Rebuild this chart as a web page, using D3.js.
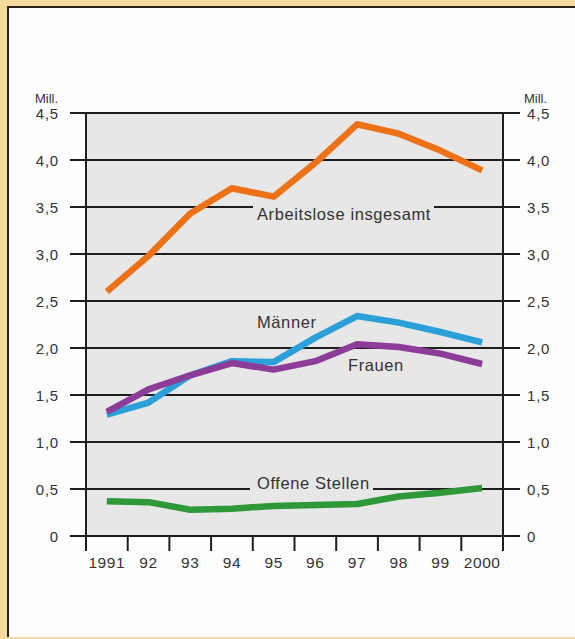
<!DOCTYPE html>
<html>
<head>
<meta charset="utf-8">
<script src="https://cdn.jsdelivr.net/npm/d3@7"></script>
<style>
    body { margin: 0; background: #f3d99c; }
    svg { display: block; }
    text { font-family: "Liberation Sans", Arial, sans-serif; fill: #333; }
</style>
</head>
<body>
<div id="chart"></div>
<script>
// data (Mill.)
const years = ['1991', '92', '93', '94', '95', '96', '97', '98', '99', '2000'];
const insgesamt = [2.60, 2.98, 3.43, 3.70, 3.61, 3.97, 4.38, 4.28, 4.10, 3.89];
const maenner = [1.29, 1.42, 1.71, 1.86, 1.85, 2.11, 2.34, 2.27, 2.17, 2.06];
const frauen = [1.32, 1.56, 1.71, 1.84, 1.77, 1.86, 2.04, 2.01, 1.94, 1.83];
const offeneStellen = [0.37, 0.36, 0.28, 0.29, 0.32, 0.33, 0.34, 0.42, 0.46, 0.51];
const yTicks = [0, 0.5, 1.0, 1.5, 2.0, 2.5, 3.0, 3.5, 4.0, 4.5];

const W = 575, H = 639;
const M = { left: 86, right: 503, top: 113, bottom: 536 };

const series = [
    { values: insgesamt, color: '#ec7117' },
    { values: maenner, color: '#2b9fd8' },
    { values: frauen, color: '#8b3d98' },
    { values: offeneStellen, color: '#2f9838' }
];

// labels: text, left x, baseline y, and the gap cut in the gridline
const labels = [
    { text: 'Arbeitslose insgesamt', x: 257, y: 220, gap: [253, 434] },
    { text: 'Männer', x: 257, y: 328 },
    { text: 'Frauen', x: 348, y: 371 },
    { text: 'Offene Stellen', x: 257, y: 489, gap: [250, 373] }
];

const fmt = v => v === 0 ? '0' : d3.format('.1f')(v).replace('.', ',');

const svg = d3.select('#chart').append('svg')
    .attr('width', W)
    .attr('height', H);

// white panel with dark frame on top and left
svg.append('rect')
    .attr('x', 8).attr('y', 6)
    .attr('width', W - 8).attr('height', 631)
    .attr('fill', '#fefefe');
svg.append('path')
    .attr('d', 'M8,637 V7 H575')
    .attr('fill', 'none')
    .attr('stroke', '#2a2118')
    .attr('stroke-width', 2);

const x = d3.scaleBand()
    .domain(years)
    .range([M.left, M.right])
    .paddingInner(0).paddingOuter(0);

const y = d3.scaleLinear()
    .domain([0, 4.5])
    .range([M.bottom, M.top]);

// plot background
svg.append('rect')
    .attr('x', M.left).attr('y', M.top)
    .attr('width', M.right - M.left)
    .attr('height', M.bottom - M.top)
    .attr('fill', '#e7e7e7');

// gridlines + ticks on both sides
svg.append('g')
    .selectAll('line')
    .data(yTicks)
    .join('line')
    .attr('x1', M.left - 16)
    .attr('x2', M.right + 17)
    .attr('y1', d => y(d))
    .attr('y2', d => y(d))
    .attr('stroke', '#1e1e1e')
    .attr('stroke-width', 2);

// left / right tick labels
svg.append('g')
    .selectAll('text')
    .data(yTicks)
    .join('text')
    .attr('x', M.left - 27)
    .attr('y', d => y(d) + 5.5)
    .attr('text-anchor', 'end')
    .attr('font-size', 15)
    .attr('letter-spacing', 0.8)
    .text(fmt);

svg.append('g')
    .selectAll('text')
    .data(yTicks)
    .join('text')
    .attr('x', M.right + 24)
    .attr('y', d => y(d) + 5.5)
    .attr('text-anchor', 'start')
    .attr('font-size', 15)
    .attr('letter-spacing', 0.8)
    .text(fmt);

svg.append('text').attr('x', 35).attr('y', 103).attr('font-size', 13).text('Mill.');
svg.append('text').attr('x', 524).attr('y', 103).attr('font-size', 13).text('Mill.');

// vertical axes
[M.left, M.right].forEach(xv => {
    svg.append('line')
        .attr('x1', xv).attr('x2', xv)
        .attr('y1', M.top).attr('y2', M.bottom + 15)
        .attr('stroke', '#1e1e1e')
        .attr('stroke-width', 2);
});

// x ticks at band edges
const edges = years.map(d => x(d)).concat([M.right]);
svg.append('g')
    .selectAll('line')
    .data(edges.slice(1, -1))
    .join('line')
    .attr('x1', d => d).attr('x2', d => d)
    .attr('y1', M.bottom).attr('y2', M.bottom + 15)
    .attr('stroke', '#1e1e1e')
    .attr('stroke-width', 2);

svg.append('g')
    .selectAll('text')
    .data(years)
    .join('text')
    .attr('x', d => x(d) + x.bandwidth() / 2)
    .attr('y', M.bottom + 32)
    .attr('text-anchor', 'middle')
    .attr('font-size', 15.5)
    .attr('letter-spacing', 0.6)
    .text(d => d);

// label gaps in the gridlines
labels.filter(l => l.gap).forEach(l => {
    svg.append('rect')
        .attr('x', l.gap[0]).attr('y', l.y - 16)
        .attr('width', l.gap[1] - l.gap[0]).attr('height', 18)
        .attr('fill', '#e7e7e7');
});

// series
const line = d3.line()
    .x((d, i) => x(years[i]) + x.bandwidth() / 2)
    .y(d => y(d));

svg.append('g')
    .selectAll('path')
    .data(series)
    .join('path')
    .attr('d', d => line(d.values))
    .attr('fill', 'none')
    .attr('stroke', d => d.color)
    .attr('stroke-width', 6.5)
    .attr('stroke-linejoin', 'round');

svg.append('g')
    .selectAll('text')
    .data(labels)
    .join('text')
    .attr('x', d => d.x)
    .attr('y', d => d.y)
    .attr('font-size', 16.5)
    .attr('letter-spacing', 0.6)
    .text(d => d.text);
</script>
</body>
</html>
